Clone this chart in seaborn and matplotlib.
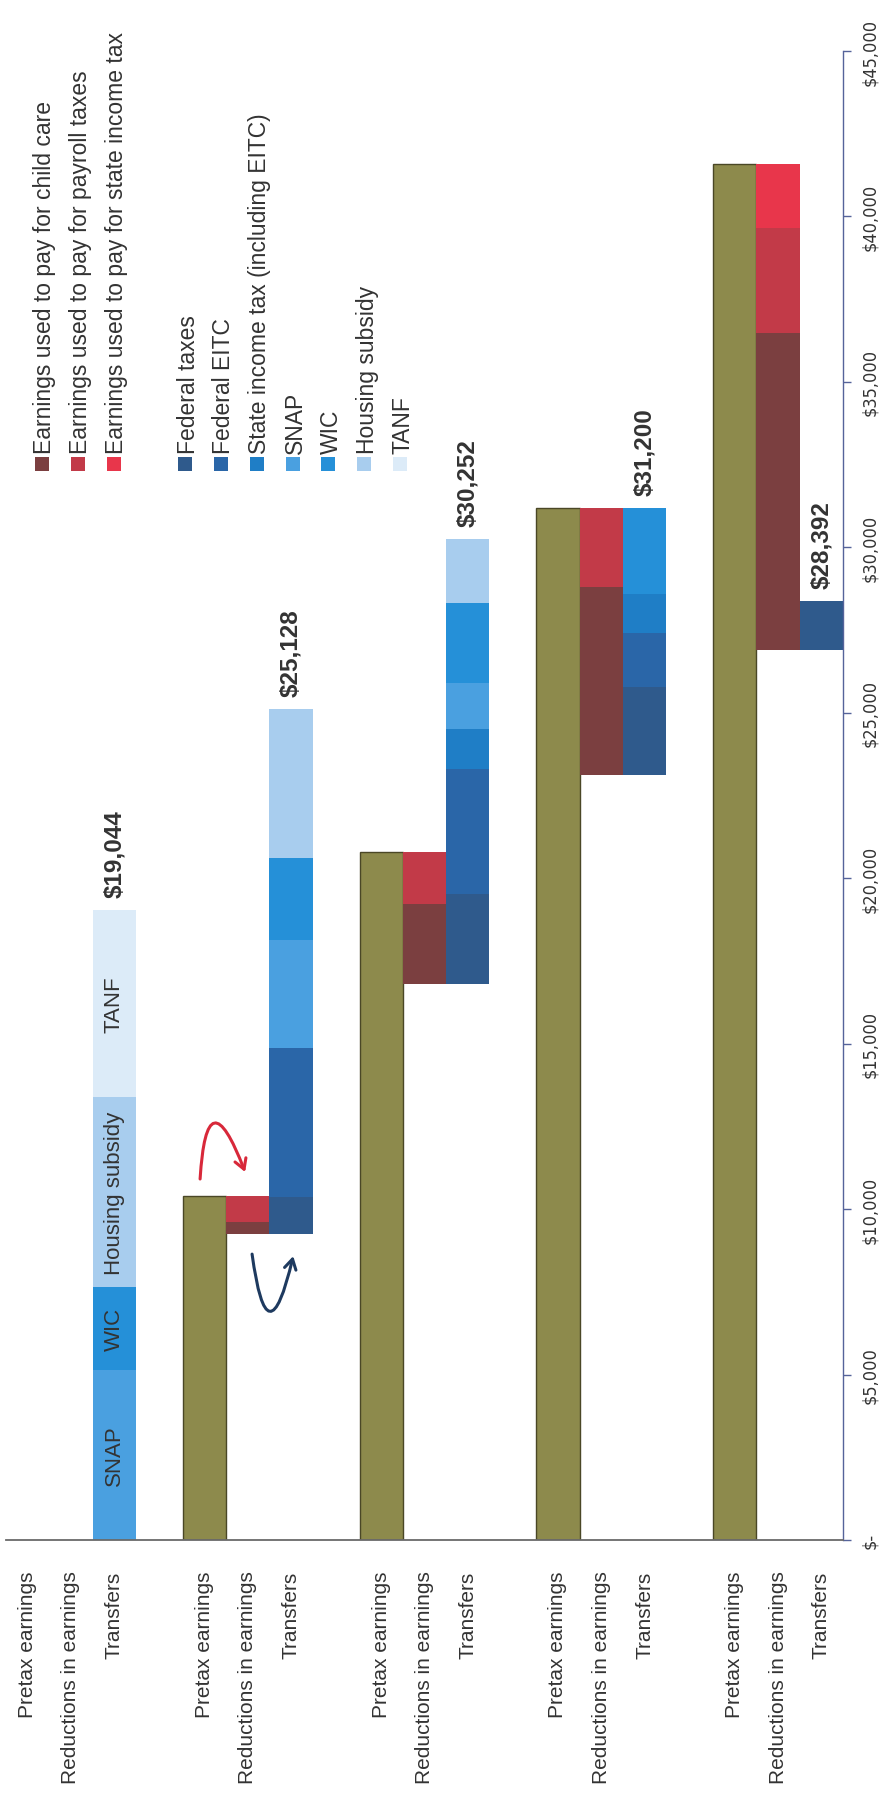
import matplotlib
matplotlib.use("Agg")
import matplotlib.pyplot as plt
import seaborn as sns
from matplotlib import font_manager
from matplotlib.font_manager import FontProperties
from matplotlib.patches import Rectangle

# One group per level of annual pretax earnings
pretax_earnings = [0, 10400, 20800, 31200, 41600]

# Reductions in earnings (stacked upward from the post-reduction level)
child_care = [0, 360, 2400, 5700, 9580]
payroll_taxes = [0, 796, 1591, 2387, 3182]
state_tax_paid = [0, 0, 0, 0, 1950]

# Transfers (stacked upward from the post-reduction level)
federal_taxes = [0, 1110, 2700, 2670, 1504]
federal_eitc = [0, 4530, 3800, 1620, 0]
state_income_tax = [0, 0, 1200, 1200, 0]
snap = [5150, 3240, 1400, 0, 0]
wic = [2490, 2490, 2400, 2597, 0]
housing_subsidy = [5760, 4514, 1943, 0, 0]
tanf = [5644, 0, 0, 0, 0]

bar_labels = ["Pretax earnings", "Reductions in earnings", "Transfers"]
value_ticks = [0, 5000, 10000, 15000, 20000, 25000, 30000, 35000, 40000, 45000]
value_tick_labels = ["$-", "$5,000", "$10,000", "$15,000", "$20,000",
                     "$25,000", "$30,000", "$35,000", "$40,000", "$45,000"]

reductions = [
    ("Earnings used to pay for child care", child_care, "#7b3f40"),
    ("Earnings used to pay for payroll taxes", payroll_taxes, "#c23a48"),
    ("Earnings used to pay for state income tax", state_tax_paid, "#e8364b"),
]
transfers = [
    ("Federal taxes", federal_taxes, "#2f5a8c"),
    ("Federal EITC", federal_eitc, "#2a66a8"),
    ("State income tax (including EITC)", state_income_tax, "#1f7ec6"),
    ("SNAP", snap, "#4aa0e0"),
    ("WIC", wic, "#2590d8"),
    ("Housing subsidy", housing_subsidy, "#a8cdee"),
    ("TANF", tanf, "#dcebf8"),
]
earnings_color = "#8d8a4c"
text_color = "#333333"
axis_blue = "#55639a"

sns.set_theme(style="white")

available = {f.name for f in font_manager.fontManager.ttflist}
body_family = next((n for n in ["Liberation Sans", "Arial", "Lato", "DejaVu Sans"]
                    if n in available), "DejaVu Sans")
plt.rcParams["font.family"] = [body_family, "DejaVu Sans"]
if "Liberation Sans Narrow" in available:
    tick_fp = FontProperties(family="Liberation Sans Narrow", size=14)
elif any(f.name == "DejaVu Sans" and f.stretch == "condensed"
         for f in font_manager.fontManager.ttflist):
    tick_fp = FontProperties(family="DejaVu Sans", stretch="condensed", size=13)
else:
    tick_fp = FontProperties(family=body_family, size=13)

W, H = 895, 1808
fig = plt.figure(figsize=(W / 100, H / 100), dpi=100)
fig.patch.set_facecolor("white")


def fx(px):
    return px / W


def fy(py):
    return 1 - py / H


ax = fig.add_axes([fx(6), fy(1541), fx(843) - fx(6), fy(52) - fy(1541)])

step = 4.08
centers = []
for g in range(len(pretax_earnings)):
    x0 = g * step
    xp, xr, xt = x0 + 0.5, x0 + 1.5, x0 + 2.5
    centers += [xp, xr, xt]
    if pretax_earnings[g] > 0:
        ax.bar(xp, pretax_earnings[g], width=1.0, color=earnings_color,
               edgecolor="#4a4726", linewidth=1.0)
    base = pretax_earnings[g] - sum(vals[g] for _, vals, _ in reductions)
    level = base
    for name, vals, col in reductions:
        if vals[g] > 0:
            ax.bar(xr, vals[g], bottom=level, width=1.0, color=col, linewidth=0)
            level += vals[g]
    level = base
    for name, vals, col in transfers:
        v = vals[g]
        if v > 0:
            ax.bar(xt, v, bottom=level, width=1.0, color=col, linewidth=0)
            if pretax_earnings[g] == 0:
                ax.text(xt, level + v / 2, name, rotation=90, ha="center",
                        va="center", fontsize=16, color=text_color)
            level += v
    ax.annotate(f"${level:,.0f}", xy=(xt, level), xytext=(0, 9),
                textcoords="offset points", rotation=90, ha="center",
                va="bottom", fontsize=17.5, fontweight="bold", color=text_color)

ax.set_xlim(0, 4 * step + 3)
ax.set_ylim(0, 45000)

ax.set_xticks(centers)
ax.set_xticklabels(bar_labels * len(pretax_earnings), rotation=90,
                   fontsize=15, color=text_color)
ax.tick_params(axis="x", length=0, pad=22)

ax.yaxis.tick_right()
ax.tick_params(axis="y", direction="out", length=6, width=1, color=axis_blue, pad=7)
ax.set_yticks(value_ticks)
ax.set_yticklabels(value_tick_labels, rotation=90, va="center", color=text_color,
                   fontproperties=tick_fp)

for side in ["left", "top"]:
    ax.spines[side].set_visible(False)
ax.spines["right"].set_color(axis_blue)
ax.spines["right"].set_linewidth(1.0)
ax.spines["bottom"].set_color("#6a6a6a")
ax.spines["bottom"].set_linewidth(1.3)
ax.grid(False)

# Hand-drawn style arrows around the second group
ax.annotate("", xy=(5.52, 11120), xytext=(4.48, 10910),
            arrowprops=dict(arrowstyle="->,head_length=0.6,head_width=0.35",
                            color="#d8283a", lw=2.2, shrinkA=0, shrinkB=0,
                            connectionstyle="arc3,rad=-2.3"))
ax.annotate("", xy=(6.63, 8580), xytext=(5.68, 8640),
            arrowprops=dict(arrowstyle="->,head_length=0.6,head_width=0.35",
                            color="#1e3a5f", lw=2.2, shrinkA=0, shrinkB=0,
                            connectionstyle="arc3,rad=2.7"))

# Legend: rotated entries stacked left to right, with a blank row between blocks
legend_entries = [(n, c) for n, _, c in reductions] + [None] + \
                 [(n, c) for n, _, c in transfers]
row_x0, row_dx, sq_y, sq = 42, 35.8, 465, 14
for k, entry in enumerate(legend_entries):
    if entry is None:
        continue
    name, col = entry
    cx = row_x0 + k * row_dx
    fig.patches.append(Rectangle((fx(cx - sq / 2), fy(sq_y + sq / 2)), sq / W, sq / H,
                                 transform=fig.transFigure, facecolor=col,
                                 edgecolor="none"))
    fig.text(fx(cx + 3), fy(sq_y - sq / 2 - 4), name, rotation=90, ha="center",
             va="bottom", fontsize=16.5, color=text_color)

fig.savefig("out.png", dpi=100, facecolor="white")
